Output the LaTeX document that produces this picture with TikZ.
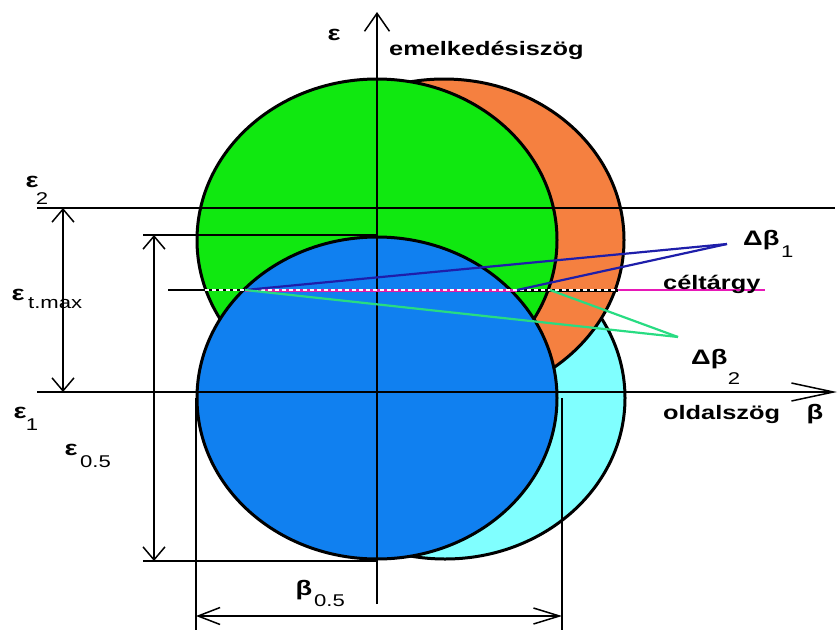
\documentclass[tikz,border=0pt]{standalone}
\usepackage{fontspec}
\setmainfont{Liberation Sans}
\usetikzlibrary{arrows.meta}

\definecolor{lobegreen}{RGB}{16,232,16}
\definecolor{lobeorange}{RGB}{245,128,64}
\definecolor{lobeblue}{RGB}{16,128,240}
\definecolor{lobecyan}{RGB}{128,255,255}
\definecolor{aimpink}{RGB}{225,30,165}
\definecolor{rayblue}{RGB}{30,30,170}
\definecolor{raygreen}{RGB}{40,220,130}

% wide bitmap-like lettering
\newcommand{\wide}[1]{\scalebox{1.3}[1]{#1}}

\begin{document}
\begin{tikzpicture}[x=1pt, y=-1pt,
  lobe/.style={draw=black, line width=3pt},
  guide/.style={line width=1.5pt},
  dimv/.style={guide, {Straight Barb[length=13pt,width=22pt]}-{Straight Barb[length=13pt,width=22pt]}},
  dimh/.style={guide, {Straight Barb[length=22pt,width=17pt]}-{Straight Barb[length=26pt,width=16pt]}},
  ray/.style={line width=2.2pt},
  word/.style={font=\fontsize{19.5}{20}\selectfont\bfseries, inner sep=0pt},
  sym/.style={font=\fontsize{21}{21}\selectfont\bfseries, inner sep=0pt},
  idx/.style={font=\fontsize{17}{17}\selectfont, inner sep=0pt}
]
  \useasboundingbox (0,0) rectangle (838,630);

  % lobe centres
  \coordinate (G) at (377,240);
  \coordinate (O) at (444,240);
  \coordinate (C) at (445,398);
  \coordinate (B) at (377,398);

  \draw[lobe, fill=lobecyan] (C) ellipse [x radius=180pt, y radius=161pt];
  \draw[lobe, fill=lobeorange] (O) ellipse [x radius=180pt, y radius=161pt];
  \draw[lobe, fill=lobegreen] (G) ellipse [x radius=180pt, y radius=161pt];
  \draw[lobe, fill=lobeblue] (B) ellipse [x radius=180pt, y radius=161pt];

  % axes
  \coordinate (vbot) at (377,604);
  \coordinate (vtop) at (377,12);
  \coordinate (hleft) at (37,392);
  \coordinate (hright) at (837,392);
  \draw[guide, -{Straight Barb[length=18pt,width=25pt]}] (vbot) -- (vtop);
  \draw[guide, -{Straight Barb[length=42pt,width=18pt]}] (hleft) -- (hright);

  % reference lines
  \coordinate (e2l) at (37,208);
  \coordinate (e2r) at (835,208);
  \coordinate (uppl) at (143,235);
  \coordinate (uppr) at (377,235);
  \coordinate (lowl) at (143,561);
  \coordinate (lowr) at (377,561);
  \coordinate (bl) at (196,398);
  \coordinate (blb) at (196,630);
  \coordinate (br) at (562,398);
  \coordinate (brb) at (562,630);
  \draw[guide] (e2l) -- (e2r);
  \draw[guide] (uppl) -- (uppr);
  \draw[guide] (lowl) -- (lowr);
  \draw[guide] (bl) -- (blb);
  \draw[guide] (br) -- (brb);

  % dimensions
  \coordinate (d1t) at (63,208);
  \coordinate (d1b) at (63,392);
  \coordinate (d2t) at (154,235);
  \coordinate (d2b) at (154,561);
  \coordinate (d3l) at (196,616);
  \coordinate (d3r) at (562,616);
  \draw[dimv] (d1t) -- (d1b);
  \draw[dimv] (d2t) -- (d2b);
  \draw[dimh] (d3l) -- (d3r);

  % target line
  \coordinate (T0) at (168,290);
  \coordinate (T1) at (205,290);
  \coordinate (T2) at (245,290);
  \coordinate (T3) at (517,290);
  \coordinate (T4) at (618,290);
  \coordinate (T5) at (765,290);
  \coordinate (T6) at (550,290);
  \draw[guide] (T0) -- (T2);
  \draw[aimpink, line width=3pt] (T2) -- (T3);
  \draw[line width=3pt] (T3) -- (T4);
  \draw[aimpink!80!magenta, line width=1.4pt] (T4) -- (T5);
  \draw[white, line width=2.4pt, dash pattern=on 4pt off 3pt] (T1) -- (T4);

  % spread rays
  \coordinate (D1) at (727,244);
  \coordinate (D2) at (678,337);
  \draw[ray, rayblue] (T2) -- (D1);
  \draw[ray, rayblue] (T3) -- (D1);
  \draw[ray, raygreen] (T2) -- (D2);
  \draw[ray, raygreen] (T6) -- (D2);

  % labels
  \node[sym] (eps) at (334,35) {\wide{ε}};
  \node[word, anchor=west] (elev) at (389,50) {\wide{emelkedésiszög}};
  \node[sym] (eps2) at (32,182) {\wide{ε}};
  \node[idx] (eps2i) at (42,199) {\wide{2}};
  \node[sym] (epst) at (18,295) {\wide{ε}};
  \node[idx, anchor=west] (epsti) at (28,303) {\wide{t.max}};
  \node[sym] (eps1) at (20,413) {\wide{ε}};
  \node[idx] (eps1i) at (32,425) {\wide{1}};
  \node[sym] (epsh) at (71,450) {\wide{ε}};
  \node[idx, anchor=west] (epshi) at (80,462) {\wide{0.5}};
  \node[sym] (beth) at (304,590) {\wide{β}};
  \node[idx, anchor=west] (bethi) at (314,601) {\wide{0.5}};
  \node[sym, anchor=west] (db1) at (743,240) {\wide{Δβ}};
  \node[idx, anchor=west] (db1i) at (781,252) {\wide{1}};
  \node[word, anchor=west] (target) at (663,284) {\wide{céltárgy}};
  \node[sym, anchor=west] (db2) at (691,359) {\wide{Δβ}};
  \node[idx] (db2i) at (734,379) {\wide{2}};
  \node[word, anchor=west] (side) at (663,414) {\wide{oldalszög}};
  \node[sym] (bet) at (815,414) {\wide{β}};
\end{tikzpicture}
\end{document}
